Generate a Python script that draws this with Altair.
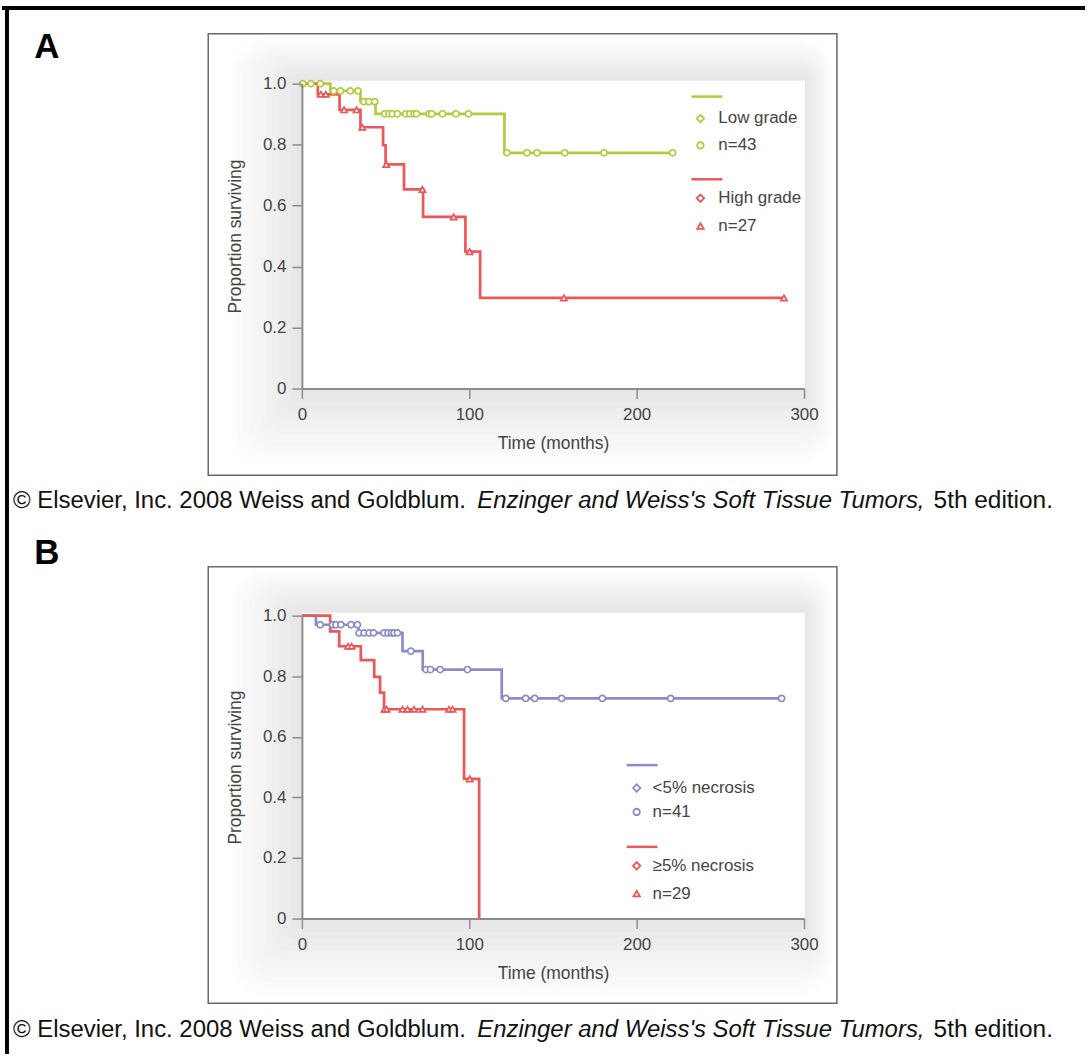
import altair as alt
import pandas as pd

# ---------------- data ----------------
month_ticks = [0, 100, 200, 300]
surv_ticks = [0, 0.2, 0.4, 0.6, 0.8, 1.0]

# Panel A – Low grade (n=43)
a_low_event_t = [17.0, 35.0, 44.0, 121.0]
a_low_event_s = [0.976, 0.941, 0.901, 0.773]
a_low_end_t = 221.5
a_low_cens_t = [0.5, 5.5, 11.0, 19.0, 23.0, 29.0, 33.5, 37.0, 40.0, 43.5,
                49.5, 52.0, 54.0, 57.0, 62.0, 64.5, 67.0, 68.5, 76.0, 77.5,
                84.0, 92.0, 99.5, 122.5, 134.5, 140.5, 157.0, 180.5, 221.5]

# Panel A – High grade (n=27)
a_high_event_t = [9.5, 22.5, 35.0, 48.5, 50.0, 61.0, 72.4, 97.7, 106.5]
a_high_event_s = [0.965, 0.914, 0.857, 0.798, 0.735, 0.653, 0.563, 0.449, 0.297]
a_high_end_t = 288.0
a_high_cens_t = [11.3, 14.3, 25.2, 32.7, 36.1, 50.4, 72.0, 90.7, 100.2, 156.5, 288.0]

# Panel B – <5% necrosis (n=41)
b_low_event_t = [8.4, 33.8, 60.1, 72.2, 119.4]
b_low_event_s = [0.970, 0.943, 0.883, 0.822, 0.727]
b_low_end_t = 286.6
b_low_cens_t = [10.9, 18.3, 20.3, 23.3, 29.3, 33.2, 34.2, 37.2, 40.2, 42.8,
                49.1, 51.5, 53.6, 55.1, 57.1, 65.1, 74.2, 76.8, 82.6, 98.9,
                121.8, 133.7, 139.1, 155.2, 179.5, 220.3, 286.6]

# Panel B – >=5% necrosis (n=29)
b_high_event_t = [16.9, 22.3, 35.2, 43.2, 46.7, 49.1, 96.9, 105.9]
b_high_event_s = [0.948, 0.899, 0.853, 0.798, 0.746, 0.691, 0.461, 0.0]
b_high_end_t = 105.9
b_high_cens_t = [27.6, 29.7, 49.3, 50.7, 60.1, 63.1, 67.0, 72.1, 87.9, 90.0, 100.3]

groups_a = ["Low grade", "High grade"]
groups_b = ["<5% necrosis", "≥5% necrosis"]
n_labels_a = ["n=43", "n=27"]
n_labels_b = ["n=41", "n=29"]

GREEN = "#b5c93e"
RED = "#ef5658"
BLUE = "#8a8cc8"
FONT = "Liberation Sans"
TXT = "#444444"

caption_parts = ["© Elsevier, Inc. 2008 Weiss and Goldblum.",
                 "Enzinger and Weiss's Soft Tissue Tumors,",
                 "5th edition."]


def km_rows(group, event_t, event_s, end_t, cens_t):
    rows = [dict(group=group, time=0.0, surv=1.0, kind="line")]
    for t, s in zip(event_t, event_s):
        rows.append(dict(group=group, time=t, surv=s, kind="line"))
    if end_t > event_t[-1]:
        rows.append(dict(group=group, time=end_t, surv=event_s[-1], kind="line"))
    for c in cens_t:
        level = 1.0
        for t, s in zip(event_t, event_s):
            if c >= t:
                level = s
        rows.append(dict(group=group, time=c, surv=level, kind="cens"))
    return rows


def one():
    return pd.DataFrame({"k": [0]})


def d_rect(x, x2, y, y2, **kw):
    return alt.Chart(one()).mark_rect(**kw).encode(
        x=alt.value(x), x2=alt.value(x2), y=alt.value(y), y2=alt.value(y2))


def d_rule(x, x2, y, y2, **kw):
    return alt.Chart(one()).mark_rule(**kw).encode(
        x=alt.value(x), x2=alt.value(x2), y=alt.value(y), y2=alt.value(y2))


def d_text(txt, x, y, **kw):
    return alt.Chart(one()).mark_text(text=txt, **kw).encode(
        x=alt.value(x), y=alt.value(y))


def d_point(x, y, **kw):
    return alt.Chart(one()).mark_point(**kw).encode(
        x=alt.value(x), y=alt.value(y))


def panel(rows, groups, n_labels, colors, shapes, height, legend, frame_y,
          caption_y, letter, letter_y, first=False):
    df = pd.DataFrame(rows)
    xs = alt.Scale(domain=[0, 300], nice=False, zero=False)
    ys = alt.Scale(domain=[0, 1], nice=False, zero=False)
    xaxis = alt.Axis(values=month_ticks, title="Time (months)", labelFlush=False,
                     zindex=2, labelPadding=8, titlePadding=12)
    yaxis = alt.Axis(values=surv_ticks, title="Proportion surviving", zindex=2,
                     labelPadding=6, titlePadding=18,
                     labelExpr="datum.value == 0 ? '0' : format(datum.value, '.1f')")
    col = alt.Scale(domain=groups, range=colors)

    layers = []
    if first:
        layers.append(d_rect(-301, 786, -82, 974, fill="white"))
    # figure frame
    layers.append(d_rect(-94, 537, frame_y[0], frame_y[1], fill="white",
                         stroke="#6a6a6a", strokeWidth=1.5))
    # soft grey shadow around the plot area
    for k in range(1, 13):
        layers.append(d_rect(-6 * k, 505 + 2.3 * k, -3 - 3.6 * k, height + 6.5 * k,
                             fill="#000000", opacity=0.0095, cornerRadius=3 * k))
    # white plot area
    layers.append(d_rect(0, 505, -3, height, fill="white"))

    lines = alt.Chart(df).transform_filter("datum.kind == 'line'").mark_line(
        interpolate="step-after", strokeWidth=2.7).encode(
        x=alt.X("time:Q", scale=xs, axis=xaxis),
        y=alt.Y("surv:Q", scale=ys, axis=yaxis),
        color=alt.Color("group:N", scale=col, legend=None),
    )
    pts = alt.Chart(df).transform_filter("datum.kind == 'cens'").mark_point(
        size=38, strokeWidth=1.7, opacity=1).encode(
        x=alt.X("time:Q", scale=xs, axis=xaxis),
        y=alt.Y("surv:Q", scale=ys, axis=yaxis),
        stroke=alt.Stroke("group:N", scale=col, legend=None),
        shape=alt.Shape("group:N", scale=alt.Scale(domain=groups, range=shapes), legend=None),
        fill=alt.value("white"),
    )
    layers += [lines, pts]

    # manual legend
    lx0, lx1, px, tx, entries = legend
    for (ly, r1, r2), g, nl, c, sh in zip(entries, groups, n_labels, colors, shapes):
        layers.append(d_rule(lx0, lx1, ly, ly, color=c, strokeWidth=2.5))
        layers.append(d_point(px, r1, shape="diamond", size=55, stroke=c,
                              fill="white", strokeWidth=1.8, opacity=1))
        layers.append(d_point(px, r2, shape=sh, size=42, stroke=c,
                              fill="white", strokeWidth=1.8, opacity=1))
        layers.append(d_text(g, tx, r1, align="left", baseline="middle",
                             font=FONT, fontSize=17, color=TXT))
        layers.append(d_text(nl, tx, r2, align="left", baseline="middle",
                             font=FONT, fontSize=17, color=TXT))

    # caption
    layers.append(d_text(caption_parts[0], -290, caption_y, align="left", baseline="middle",
                         font=FONT, fontSize=24, color="#111111"))
    layers.append(d_text(caption_parts[1], 176, caption_y, align="left", baseline="middle",
                         font=FONT, fontSize=24, fontStyle="italic", color="#111111"))
    layers.append(d_text(caption_parts[2], 634, caption_y, align="left", baseline="middle",
                         font=FONT, fontSize=24.5, color="#111111"))
    # panel letter
    layers.append(d_text(letter, -256, letter_y, align="center", baseline="middle",
                         font=FONT, fontSize=35, fontWeight="bold", color="black"))
    if first:
        layers.append(d_rule(-301, 786, -76, -76, color="black", strokeWidth=4))
        layers.append(d_rule(-296, -296, -78, 974, color="black", strokeWidth=4))

    return alt.layer(*layers).properties(width=504, height=height)


rows_a = km_rows(groups_a[0], a_low_event_t, a_low_event_s, a_low_end_t, a_low_cens_t) + \
    km_rows(groups_a[1], a_high_event_t, a_high_event_s, a_high_end_t, a_high_cens_t)
rows_b = km_rows(groups_b[0], b_low_event_t, b_low_event_s, b_low_end_t, b_low_cens_t) + \
    km_rows(groups_b[1], b_high_event_t, b_high_event_s, b_high_end_t, b_high_cens_t)

panel_a = panel(rows_a, groups_a, n_labels_a, [GREEN, RED], ["circle", "triangle-up"], 306,
                (391, 422, 400, 418, [(13, 35, 62), (96, 115, 143)]),
                (-50, 393), 419, "A", -37, first=True)
panel_b = panel(rows_b, groups_b, n_labels_b, [BLUE, RED], ["circle", "triangle-up"], 304,
                (326, 357, 336, 352, [(150, 173, 197), (232, 251, 279)]),
                (-49, 389), 416, "B", -63)

chart = alt.vconcat(panel_a, panel_b, spacing=228, bounds="flush").resolve_scale(
    color="independent", stroke="independent", shape="independent"
).properties(padding=0).configure_view(stroke=None).configure_axis(
    domainColor="#8c8c8c", domainWidth=2, tickColor="#8c8c8c", tickWidth=1.5,
    tickSize=10, labelFont=FONT, labelFontSize=17, labelColor=TXT,
    titleFont=FONT, titleFontSize=17.5, titleFontWeight="normal", titleColor=TXT,
    grid=False, labelOverlap=False
)

chart.save("out.html", embed_options={"renderer": "svg", "actions": False})
